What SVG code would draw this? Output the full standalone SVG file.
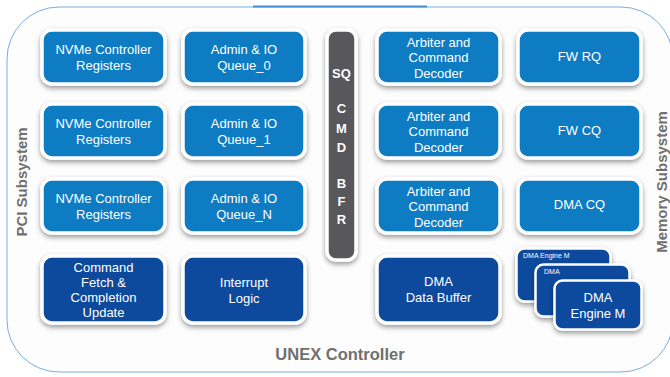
<svg xmlns="http://www.w3.org/2000/svg" width="670" height="377" viewBox="0 0 670 377">
<defs>
<filter id="sh" x="-20%" y="-20%" width="140%" height="150%">
<feDropShadow dx="0" dy="2.5" stdDeviation="2.5" flood-color="#000" flood-opacity="0.4"/>
</filter>
<style>
.lt{fill:#0a7bc3;stroke:#fff;stroke-width:3.5;filter:url(#sh)}
.dk{fill:#0d4a9c;stroke:#fff;stroke-width:3.5;filter:url(#sh)}
.dk2{fill:#0d4a9c;stroke:#fff;stroke-width:2.5;filter:url(#sh)}
.t{font-family:"Liberation Sans",Arial,sans-serif;font-size:13px;fill:#fff;text-anchor:middle}
.ts{font-family:"Liberation Sans",Arial,sans-serif;font-size:7px;fill:#fff}
.c{font-family:"Liberation Sans",Arial,sans-serif;font-size:13px;font-weight:bold;fill:#fff;text-anchor:middle}
.lbl{font-family:"Liberation Sans",Arial,sans-serif;font-weight:bold;fill:#707070;text-anchor:middle}
</style>
</defs>
<rect width="670" height="377" fill="#fff"/>
<g id="frame">
<rect x="7" y="7" width="666" height="365" rx="52" fill="#fdfdfd" stroke="#7aaedd" stroke-width="1"/>
<line x1="253" y1="6.5" x2="427" y2="6.5" stroke="#4a8fd4" stroke-width="2"/>
</g>
<g id="connectors"></g>
<g id="nvme0"><rect class="lt" x="42" y="30" width="123" height="54" rx="10"/><text class="t" x="103.5" y="53.5">NVMe Controller</text><text class="t" x="103.5" y="69.5">Registers</text></g>
<g id="queue0"><rect class="lt" x="183" y="30" width="122" height="54" rx="10"/><text class="t" x="244" y="53.5">Admin &amp; IO</text><text class="t" x="244" y="69.5">Queue_0</text></g>
<g id="nvme1"><rect class="lt" x="42" y="104" width="123" height="54" rx="10"/><text class="t" x="103.5" y="127.5">NVMe Controller</text><text class="t" x="103.5" y="143.5">Registers</text></g>
<g id="queue1"><rect class="lt" x="183" y="104" width="122" height="54" rx="10"/><text class="t" x="244" y="127.5">Admin &amp; IO</text><text class="t" x="244" y="143.5">Queue_1</text></g>
<g id="nvmeN"><rect class="lt" x="42" y="179" width="123" height="54" rx="10"/><text class="t" x="103.5" y="202.5">NVMe Controller</text><text class="t" x="103.5" y="218.5">Registers</text></g>
<g id="queueN"><rect class="lt" x="183" y="179" width="122" height="54" rx="10"/><text class="t" x="244" y="202.5">Admin &amp; IO</text><text class="t" x="244" y="218.5">Queue_N</text></g>
<g id="fetch"><rect class="dk" x="42" y="256" width="123" height="67" rx="10"/><text class="t" x="103.5" y="272">Command</text><text class="t" x="103.5" y="287">Fetch &amp;</text><text class="t" x="103.5" y="302">Completion</text><text class="t" x="103.5" y="317">Update</text></g>
<g id="interrupt"><rect class="dk" x="183" y="256" width="122" height="67" rx="10"/><text class="t" x="244" y="286.5">Interrupt</text><text class="t" x="244" y="302.5">Logic</text></g>
<g id="sqbuf"><rect x="327" y="30" width="29" height="230" rx="9" fill="#58595b" stroke="#fff" stroke-width="3.5" filter="url(#sh)"/>
<text class="c" x="341.5" y="78">SQ</text>
<text class="c" x="341.5" y="113">C</text><text class="c" x="341.5" y="132.5">M</text><text class="c" x="341.5" y="152">D</text>
<text class="c" x="341.5" y="188">B</text><text class="c" x="341.5" y="206">F</text><text class="c" x="341.5" y="224">R</text></g>
<g id="arb0"><rect class="lt" x="377" y="30" width="123" height="54" rx="10"/><text class="t" x="438.5" y="46.5">Arbiter and</text><text class="t" x="438.5" y="62">Command</text><text class="t" x="438.5" y="77.5">Decoder</text></g>
<g id="fwrq"><rect class="lt" x="518" y="30" width="123" height="54" rx="10"/><text class="t" x="579.5" y="61">FW RQ</text></g>
<g id="arb1"><rect class="lt" x="377" y="104" width="123" height="54" rx="10"/><text class="t" x="438.5" y="120.5">Arbiter and</text><text class="t" x="438.5" y="136">Command</text><text class="t" x="438.5" y="151.5">Decoder</text></g>
<g id="fwcq"><rect class="lt" x="518" y="104" width="123" height="54" rx="10"/><text class="t" x="579.5" y="135">FW CQ</text></g>
<g id="arb2"><rect class="lt" x="377" y="179" width="123" height="54" rx="10"/><text class="t" x="438.5" y="195.5">Arbiter and</text><text class="t" x="438.5" y="211">Command</text><text class="t" x="438.5" y="226.5">Decoder</text></g>
<g id="dmacq"><rect class="lt" x="518" y="179" width="123" height="54" rx="10"/><text class="t" x="579.5" y="209">DMA CQ</text></g>
<g id="dmabuf"><rect class="dk" x="377" y="256" width="123" height="67" rx="10"/><text class="t" x="438.5" y="285.5">DMA</text><text class="t" x="438.5" y="301.5">Data Buffer</text></g>
<g id="dmaeng1"><rect class="dk2" x="516.5" y="248.5" width="94" height="53" rx="8"/><text class="ts" x="523" y="258">DMA Engine M</text></g>
<g id="dmaeng2"><rect class="dk2" x="535.5" y="264.5" width="94" height="52" rx="8"/><text class="ts" x="544" y="274">DMA</text></g>
<g id="dmaeng3"><rect class="dk2" x="554.5" y="280.5" width="87" height="49" rx="8"/><text class="t" x="598" y="301.5">DMA</text><text class="t" x="598" y="317.5">Engine M</text></g>
<text class="lbl" font-size="15" transform="translate(27,182) rotate(-90)">PCI Subsystem</text>
<text class="lbl" font-size="15" transform="translate(667,182) rotate(-90)">Memory Subsystem</text>
<text class="lbl" font-size="16.5" x="340" y="360" fill="#666">UNEX Controller</text>
</svg>
